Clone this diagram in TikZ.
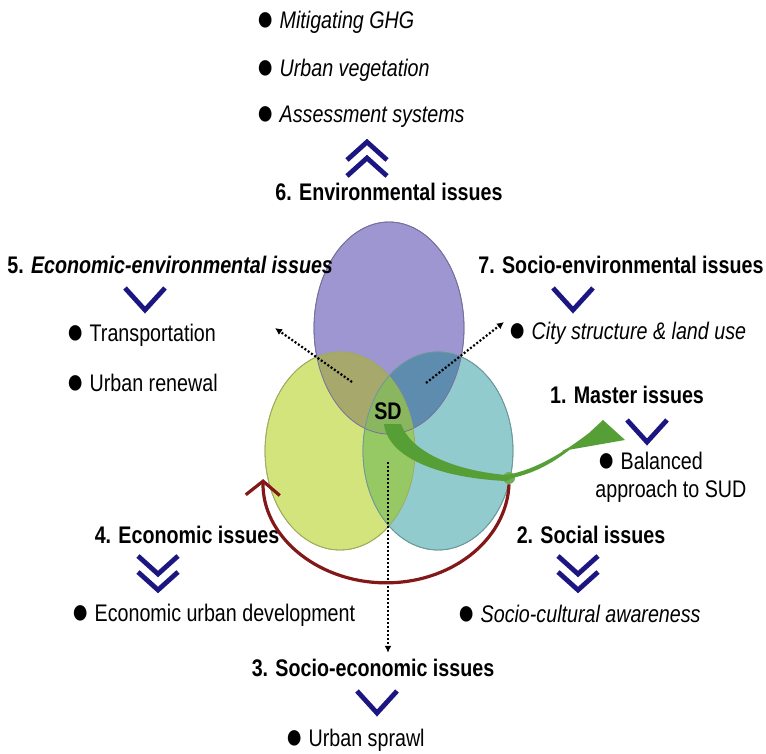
\documentclass[tikz,border=0pt]{standalone}
\usepackage{fontspec}
\setmainfont{Liberation Sans}[FakeStretch=0.82]
\usetikzlibrary{shapes.geometric,arrows.meta}
\definecolor{envcol}{RGB}{158,150,208}
\definecolor{ecocol}{RGB}{212,228,125}
\definecolor{soccol}{RGB}{146,203,206}
\definecolor{envecocol}{RGB}{166,168,108}
\definecolor{envsoccol}{RGB}{94,140,174}
\definecolor{ecosoccol}{RGB}{150,200,100}
\definecolor{allcol}{RGB}{138,182,96}
\definecolor{navy}{RGB}{28,22,130}
\definecolor{sdgreen}{RGB}{86,158,54}
\definecolor{arcred}{RGB}{130,24,24}
\newcommand\bul{\raisebox{-1pt}{\fontsize{18}{14}\selectfont ●}}
\begin{document}
\begin{tikzpicture}[x=0.5pt, y=-0.5pt,
	head/.style={font=\fontsize{12}{14}\selectfont\bfseries, inner sep=0},
	item/.style={font=\fontsize{12}{14}\selectfont, inner sep=0, anchor=west},
	circ/.style={ellipse, draw=#1!75!black, fill=#1, line width=0.4pt, minimum width=75pt, minimum height=99pt, inner sep=0},
	chev/.style={draw=navy, line width=2.4pt, miter limit=10},
	dots/.style={line width=1.1pt, dash pattern=on 1pt off 1pt, -{Latex[length=3.5pt, width=3.5pt]}}]
	\useasboundingbox (0,0) rectangle (766,754);

	\node[circ=envcol, minimum height=106pt] (env) at (389,328) {};
	\node[circ=ecocol] (eco) at (340,451) {};
	\node[circ=soccol] (soc) at (438,451) {};
	\begin{scope}
		\clip (env.center) ellipse [x radius=37.5pt, y radius=53pt];
		\fill[envecocol] (eco.center) ellipse [x radius=37.5pt, y radius=49.5pt];
		\fill[envsoccol] (soc.center) ellipse [x radius=37.5pt, y radius=49.5pt];
	\end{scope}
	\begin{scope}
		\clip (eco.center) ellipse [x radius=37.5pt, y radius=49.5pt];
		\fill[ecosoccol] (soc.center) ellipse [x radius=37.5pt, y radius=49.5pt];
		\clip (soc.center) ellipse [x radius=37.5pt, y radius=49.5pt];
		\fill[allcol] (env.center) ellipse [x radius=37.5pt, y radius=53pt];
	\end{scope}
	\draw[envcol!75!black, line width=0.4pt] (env.center) ellipse [x radius=37.5pt, y radius=53pt];
	\draw[ecocol!75!black, line width=0.4pt] (eco.center) ellipse [x radius=37.5pt, y radius=49.5pt];
	\draw[soccol!75!black, line width=0.4pt] (soc.center) ellipse [x radius=37.5pt, y radius=49.5pt];
	\node[font=\fontsize{12}{14}\selectfont\bfseries, inner sep=0] (sd) at (388,411) {SD};

	\node[item] (ghg) at (256,22) {\bul\ \textit{Mitigating GHG}};
	\node[item] (veg) at (256,70) {\bul\ \textit{Urban vegetation}};
	\node[item] (ass) at (256,117) {\bul\ \textit{Assessment systems}};
	\draw[chev] (347,160) -- (367,142) -- (387,160);
	\draw[chev] (347,176) -- (367,158) -- (387,176);
	\node[head] (envh) at (389,192) {6. Environmental issues};

	\node[head, anchor=west] (ecoenv) at (7,265) {5. \textit{Economic-environmental issues}};
	\draw[chev] (125,288) -- (145,310) -- (165,288);
	\node[item] (trans) at (66,335) {\bul\ Transportation};
	\node[item] (renew) at (66,384) {\bul\ Urban renewal};

	\node[head, anchor=west] (socenv) at (478,265) {7. Socio-environmental issues};
	\draw[chev] (553,288) -- (573,310) -- (593,288);
	\node[item] (city) at (508,333) {\bul\ \textit{City structure \& land use}};

	\node[head] (master) at (627,395) {1. Master issues};
	\draw[chev] (627,420) -- (647,442) -- (667,420);
	\node[item, align=left, anchor=north west] (bal) at (595,452) {\hspace{1pt}\bul\ Balanced\\approach to SUD};

	\node[head] (social) at (591,535) {2. Social issues};
	\draw[chev] (558,556) -- (578,574) -- (598,556);
	\draw[chev] (558,572) -- (578,590) -- (598,572);
	\node[item] (aware) at (457,615) {\bul\ \textit{Socio-cultural awareness}};

	\node[head] (econ) at (187,535) {4. Economic issues};
	\draw[chev] (138,556) -- (158,574) -- (178,556);
	\draw[chev] (138,572) -- (158,590) -- (178,572);
	\node[item] (urbdev) at (71,615) {\bul\ Economic urban development};

	\node[head] (socecon) at (373,668) {3. Socio-economic issues};
	\draw[chev] (357,691) -- (377,713) -- (397,691);
	\node[item] (sprawl) at (285,740) {\bul\ Urban sprawl};

	\coordinate (ee) at (352,382);
	\coordinate (se) at (426,383);
	\coordinate (ss) at (388,462);
	\coordinate (eeend) at (275,328);
	\coordinate (seend) at (504,322);
	\draw[dots] (ee) -- (eeend);
	\draw[dots] (se) -- (seend);
	\draw[dots] (ss) -- ([yshift=3pt]socecon.north -| ss);

	\node[circle, fill=sdgreen!85!white, minimum size=6pt, inner sep=0] (dot) at (509,478) {};
	\draw[arcred, line width=1.6pt, -{Straight Barb[length=7pt, width=17pt, line width=1.6pt]}] (dot.south) arc[start angle=-2, end angle=-181, x radius=61.5pt, y radius=51pt];
	\fill[sdgreen] (384,424) .. controls (388,458) and (440,478) .. (506,481)
		-- (512,478) .. controls (540,472) and (560,458) .. (578,443)
		-- (562,451) -- (625,440) -- (603,420) -- (589,433)
		.. controls (564,452) and (536,470) .. (506,475)
		.. controls (450,470) and (410,450) .. (401,424) -- cycle;
\end{tikzpicture}
\end{document}
